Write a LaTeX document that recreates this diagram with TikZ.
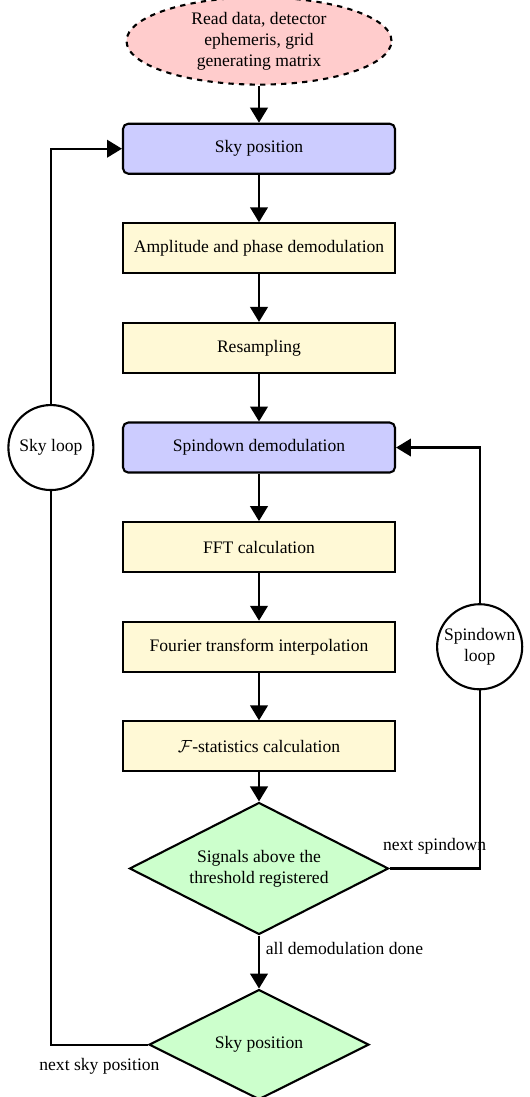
\documentclass[tikz,border=0pt]{standalone}
\usepackage{fontspec}
\setmainfont{Liberation Serif}
\usepackage{amssymb}
\usepackage{tikz}
\usetikzlibrary{ arrows.meta, calc, positioning, shapes.geometric }
\definecolor{procfill}{HTML}{FFF9D6}
\tikzset{
>={Triangle[length=8.5pt,width=10pt]}, % big filled arrow heads
node distance=0.95cm, % distance between the boxes of the chain
every path/.style={very thick},
startnode/.style={ellipse, draw, dashed, fill=red!20, align=center, inner sep=1pt, minimum width=5.3cm, minimum height=1.74cm},
loopbox/.style={rectangle, draw, rounded corners=3pt, fill=blue!20, minimum width=5.44cm, minimum height=1cm},
procbox/.style={rectangle, draw, fill=procfill, minimum width=5.44cm, minimum height=1cm},
decision/.style={diamond, draw, fill=green!20, aspect=2, align=center, inner sep=1pt},
loopcirc/.style={circle, draw, fill=white, align=center, inner sep=1pt, minimum size=1.7cm},
}
\begin{document}
\begin{tikzpicture}
  \useasboundingbox (0,0) rectangle (10.6,-21.94);% keep the margins of the page
  \node[startnode] (read) at (5.18,-0.82) {Read data, detector\\ ephemeris, grid\\ generating matrix};
  \node[loopbox, below=0.74cm of read] (sky) {Sky position};
  \node[procbox, below=of sky] (amp) {Amplitude and phase demodulation};
  \node[procbox, below=of amp] (res) {Resampling};
  \node[loopbox, below=of res] (spin) {Spindown demodulation};
  \node[procbox, below=of spin] (fft) {FFT calculation};
  \node[procbox, below=of fft] (fti) {Fourier transform interpolation};
  \node[procbox, below=of fti] (fstat) {$\mathcal{F}$-statistics calculation};
  \node[decision, minimum width=5.18cm, minimum height=2.64cm, below=0.58cm of fstat] (sig) {Signals above the\\ threshold registered};
  \node[decision, minimum width=4.4cm, minimum height=2.2cm, below=1.06cm of sig] (skypos) {Sky position};

  \node[loopcirc, left=0.55cm of spin] (skyloop) {Sky loop};
  \node[loopcirc, right=0.8cm of fti] (spinloop) {Spindown\\ loop};

  \draw[->] (read) -- (sky);
  \draw[->] (sky) -- (amp);
  \draw[->] (amp) -- (res);
  \draw[->] (res) -- (spin);
  \draw[->] (spin) -- (fft);
  \draw[->] (fft) -- (fti);
  \draw[->] (fti) -- (fstat);
  \draw[->] (fstat) -- (sig);
  \draw[->] (sig) -- node[right, near start]{all demodulation done} (skypos);

  % spindown loop
  \draw (sig.east) -| node[above=4pt, pos=0.25]{next spindown} (spinloop.south);
  \draw[->] (spinloop.north) |- (spin.east);

  % sky loop
  \draw (skypos.west) -| node[below=4pt, pos=0.25]{next sky position} (skyloop.south);
  \draw[->] (skyloop.north) |- (sky.west);
\end{tikzpicture}
\end{document}
